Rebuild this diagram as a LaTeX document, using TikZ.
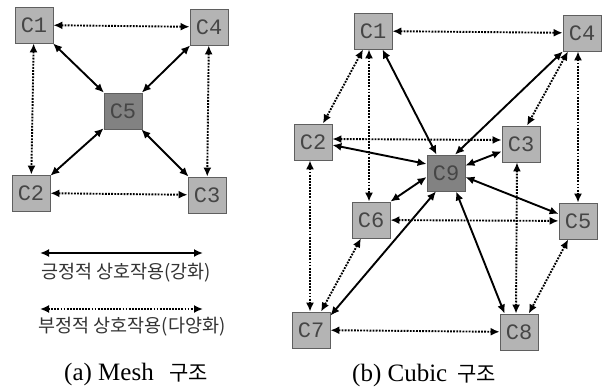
\documentclass[tikz,border=0pt]{standalone}
\usepackage{fontspec}
\setmainfont{Liberation Serif}
\setmonofont{Liberation Mono}
\newfontfamily\kr{Noto Sans CJK KR}
\usetikzlibrary{arrows.meta}
\definecolor{boxlight}{RGB}{180,180,180}
\definecolor{boxdark}{RGB}{130,130,130}
\definecolor{boxline}{RGB}{95,95,95}
\definecolor{labtxt}{RGB}{70,70,70}
\tikzset{
  cell/.style={rectangle, draw=boxline, line width=0.8pt, fill=boxlight,
    minimum width=38pt, minimum height=36pt, inner sep=0pt,
    font=\ttfamily\fontsize{22}{22}\selectfont, text=labtxt},
  hub/.style={cell, fill=boxdark},
  tipped/.style={{Latex[length=9pt,width=8pt]}-{Latex[length=9pt,width=8pt]}},
  poslink/.style={line width=1.9pt, tipped},
  neglink/.style={line width=1.9pt, dash pattern=on 1.8pt off 1.3pt, tipped},
  legtxt/.style={font=\kr\fontsize{18.5}{18.5}\selectfont, text=black!80, inner sep=0pt},
  captxt/.style={font=\fontsize{25}{25}\selectfont, inner sep=0pt},
  capkr/.style={font=\kr\fontsize{21}{21}\selectfont, inner sep=0pt},
}
\begin{document}
\begin{tikzpicture}[x=1pt,y=-1pt]
\useasboundingbox (0,0) rectangle (602,388);
% ---- Mesh
\node[cell] (a1) at (34,25) {C1};
\node[cell] (a4) at (209,27) {C4};
\node[hub]  (a5) at (123,111) {C5};
\node[cell] (a2) at (31,193) {C2};
\node[cell] (a3) at (207,195) {C3};
\draw[neglink] (a1) -- (a4);
\draw[neglink] (a1) -- (a2);
\draw[neglink] (a4) -- (a3);
\draw[neglink] (a2) -- (a3);
\draw[poslink] (a1) -- (a5);
\draw[poslink] (a4) -- (a5);
\draw[poslink] (a2) -- (a5);
\draw[poslink] (a3) -- (a5);
% legend
\coordinate (l1a) at (40,253);
\coordinate (l1b) at (203,253);
\coordinate (l2a) at (40,309);
\coordinate (l2b) at (203,309);
\draw[poslink] (l1a) -- (l1b);
\draw[neglink] (l2a) -- (l2b);
\node[legtxt] (t1) at (126,273) {긍정적 상호작용(강화)};
\node[legtxt] (t2) at (132,327) {부정적 상호작용(다양화)};
\node[captxt, anchor=base west] (capa) at (64,380) {(a) Mesh};
\node[capkr, anchor=base east] (capak) at (208,380) {구조};
% ---- Cubic
\node[cell] (b1) at (373,31) {C1};
\node[cell] (b4) at (582,33) {C4};
\node[cell] (b2) at (313,142) {C2};
\node[cell] (b3) at (521,144) {C3};
\node[hub]  (b9) at (446,173) {C9};
\node[cell] (b6) at (371,220) {C6};
\node[cell] (b5) at (578,221) {C5};
\node[cell] (b7) at (311,330) {C7};
\node[cell] (b8) at (519,332) {C8};
% negative
\draw[neglink] (b1) -- (b4);
\draw[neglink] (b1) -- (b2);
\draw[neglink] ([xshift=-4pt]b1.south) -- ([xshift=-2pt]b6.north);
\draw[neglink] ([xshift=-14pt]b4.south) -- ([xshift=6pt]b3.north);
\draw[neglink] ([xshift=-4pt]b4.south) -- (b5.north);
\draw[neglink] ([yshift=3pt]b2.east) -- ([yshift=4pt]b3.west);
\draw[neglink] ([xshift=-3pt]b2.south) -- ([xshift=-1pt]b7.north);
\draw[neglink] (b6) -- (b5);
\draw[neglink] (b6) -- (b7);
\draw[neglink] (b5) -- (b8);
\draw[neglink] ([xshift=-4pt]b3.south) -- ([xshift=-3pt]b8.north);
\draw[neglink] (b7) -- (b8);
% positive
\draw[poslink] (b1) -- (b9);
\draw[poslink] (b4) -- ([xshift=9pt]b9.north);
\draw[poslink] ([yshift=-3pt]b2.east) -- ([yshift=9pt]b9.west);
\draw[poslink] (b3) -- (b9);
\draw[poslink] ([yshift=-4pt]b9.east) -- ([yshift=7pt]b5.west);
\draw[poslink] ([yshift=-4pt]b9.west) -- (b6.north east);
\draw[poslink] ([xshift=-10pt]b9.south) -- ([yshift=-4pt]b7.north east);
\draw[poslink] ([xshift=10pt]b9.south) -- ([xshift=5pt]b8.north west);
\node[captxt, anchor=base west] (capb) at (352,381) {(b) Cubic};
\node[capkr, anchor=base east] (capbk) at (496,381) {구조};
\end{tikzpicture}
\end{document}
